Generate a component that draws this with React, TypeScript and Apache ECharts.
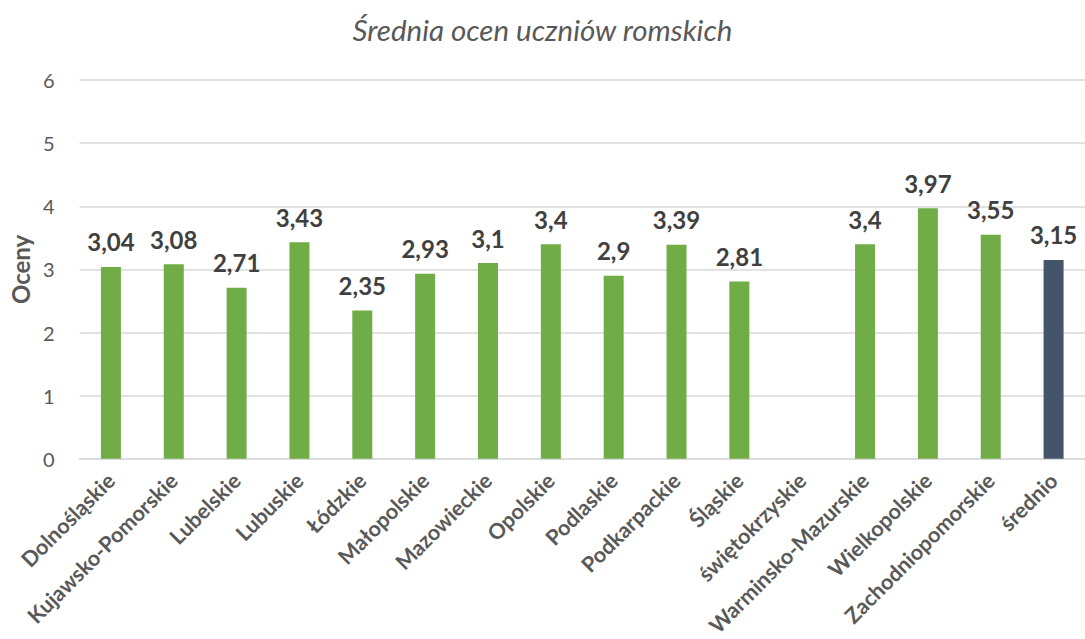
import React, { useEffect, useRef } from "react";
import * as echarts from "echarts";

const categories = [
  "Dolnośląskie",
  "Kujawsko-Pomorskie",
  "Lubelskie",
  "Lubuskie",
  "Łódzkie",
  "Małopolskie",
  "Mazowieckie",
  "Opolskie",
  "Podlaskie",
  "Podkarpackie",
  "Śląskie",
  "świętokrzyskie",
  "Warminsko-Mazurskie",
  "Wielkopolskie",
  "Zachodniopomorskie",
  "średnio",
];
const values: (number | null)[] = [
  3.04, 3.08, 2.71, 3.43, 2.35, 2.93, 3.1, 3.4, 2.9, 3.39, 2.81, null, 3.4, 3.97, 3.55, 3.15,
];
const highlighted = ["średnio"];
const titleText = "Średnia ocen uczniów romskich";
const yAxisName = "Oceny";

const GREEN = "#70AD47";
const NAVY = "#44546A";

export default function App() {
  const ref = useRef<HTMLDivElement>(null);
  useEffect(() => {
    if (!ref.current) return;
    const chart = echarts.init(ref.current, null, { renderer: "svg" });
    chart.setOption({
      animation: false,
      backgroundColor: "#ffffff",
      textStyle: { fontFamily: "Lato" },
      title: {
        text: titleText,
        left: "center",
        top: 9,
        textStyle: {
          fontFamily: "Lato",
          fontStyle: "italic",
          fontWeight: "normal",
          fontSize: 29.5,
          color: "#595959",
        },
      },
      grid: { left: 78, right: -17, top: 80, bottom: 177, containLabel: false },
      xAxis: {
        type: "category",
        data: categories,
        axisLine: { show: true, lineStyle: { color: "#D9D9D9", width: 1.5 } },
        axisTick: { show: false },
        axisLabel: {
          interval: 0,
          rotate: 45,
          margin: 18,
          fontFamily: "Lato",
          fontWeight: "bold",
          fontSize: 21.5,
          color: "#595959",
        },
      },
      yAxis: {
        type: "value",
        min: 0,
        max: 6,
        interval: 1,
        name: yAxisName,
        nameLocation: "middle",
        nameGap: 44,
        nameTextStyle: { fontFamily: "Lato", fontWeight: "bold", fontSize: 24, color: "#595959" },
        axisLine: { show: false },
        axisTick: { show: false },
        splitLine: { lineStyle: { color: "#D9D9D9", width: 1.5 } },
        axisLabel: { margin: 25, fontFamily: "Lato", fontSize: 20, color: "#595959" },
      },
      series: [
        {
          type: "bar",
          barWidth: 20,
          data: values.map((v, i) => ({
            value: v,
            itemStyle: { color: highlighted.includes(categories[i]) ? NAVY : GREEN },
          })),
          label: {
            show: true,
            position: "top",
            distance: 13,
            fontFamily: "Lato",
            fontWeight: "bold",
            fontSize: 24,
            color: "#404040",
            formatter: (p: any) => (p.value == null ? "" : String(p.value).replace(".", ",")),
          },
        },
      ],
    });
    return () => chart.dispose();
  }, []);
  return (
    <div
      ref={ref}
      style={{ position: "fixed", left: 0, top: 0, width: 1085, height: 639 }}
    />
  );
}
